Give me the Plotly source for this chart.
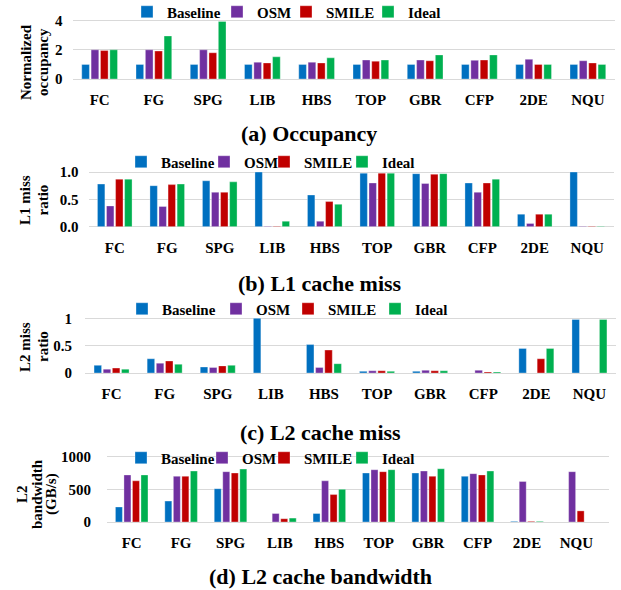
import plotly.graph_objects as go

# ---------------- data ----------------
categories = ["FC", "FG", "SPG", "LIB", "HBS", "TOP", "GBR", "CFP", "2DE", "NQU"]
series_names = ["Baseline", "OSM", "SMILE", "Ideal"]

occ_baseline = [1, 1, 1, 1, 1, 1, 1, 1, 1, 1]
occ_osm      = [2.0, 2.0, 2.0, 1.15, 1.15, 1.3, 1.3, 1.28, 1.35, 1.25]
occ_smile    = [1.95, 1.92, 1.8, 1.1, 1.1, 1.22, 1.25, 1.3, 1.0, 1.1]
occ_ideal    = [2.0, 2.95, 3.95, 1.52, 1.45, 1.3, 1.65, 1.65, 1.0, 1.0]

l1_baseline = [0.78, 0.75, 0.84, 1.0, 0.58, 0.98, 0.97, 0.80, 0.23, 1.0]
l1_osm      = [0.38, 0.37, 0.63, 0.01, 0.10, 0.80, 0.79, 0.63, 0.06, 0.01]
l1_smile    = [0.87, 0.77, 0.63, 0.01, 0.46, 0.98, 0.96, 0.80, 0.23, 0.01]
l1_ideal    = [0.87, 0.78, 0.82, 0.10, 0.41, 0.98, 0.97, 0.87, 0.23, 0.01]

l2_baseline = [0.14, 0.26, 0.11, 1.0, 0.52, 0.03, 0.03, 0.00, 0.45, 0.98]
l2_osm      = [0.07, 0.18, 0.10, 0.0, 0.10, 0.04, 0.05, 0.05, 0.00, 0.00]
l2_smile    = [0.09, 0.22, 0.13, 0.0, 0.42, 0.04, 0.04, 0.02, 0.26, 0.00]
l2_ideal    = [0.07, 0.16, 0.14, 0.0, 0.17, 0.03, 0.04, 0.02, 0.45, 0.98]

bw_baseline = [230, 320, 510, 0, 130, 750, 750, 700, 10, 0]
bw_osm      = [720, 700, 770, 130, 630, 800, 780, 740, 620, 770]
bw_smile    = [630, 700, 750, 50, 420, 770, 700, 720, 10, 170]
bw_ideal    = [720, 780, 810, 60, 500, 800, 815, 780, 10, 0]

y_tickvals_a = [0, 2, 4]
y_tickvals_b = [0.0, 0.5, 1.0]
y_ticktext_b = ["0.0", "0.5", "1.0"]
y_tickvals_c = [0, 0.5, 1]
y_ticktext_c = ["0", "0.5", "1"]
y_tickvals_d = [0, 500, 1000]

captions = ["(a) Occupancy", "(b) L1 cache miss", "(c) L2 cache miss", "(d) L2 cache bandwidth"]
ytitles = [["Normalized", "occupancy"], ["L1 miss", "ratio"], ["L2 miss", "ratio"],
           ["L2", "bandwidth", "(GB/s)"]]

colors = ["#0070C0", "#7030A0", "#C00000", "#00B050"]

panels_data = [
    [occ_baseline, occ_osm, occ_smile, occ_ideal],
    [l1_baseline, l1_osm, l1_smile, l1_ideal],
    [l2_baseline, l2_osm, l2_smile, l2_ideal],
    [bw_baseline, bw_osm, bw_smile, bw_ideal],
]

# ---------------- layout helpers (pixel geometry) ----------------
W, H = 621, 590
def px(x):
    return x / W
def py(y):
    return 1 - y / H

FONT = "Liberation Serif, Times New Roman, Times, serif"

panel_geo = [
    dict(x=(72.5, 615), y=(79.0, 19.2), yr=[0, 4.1], xr=[-0.5, 9.5], ystand=9),
    dict(x=(88.5, 613.5), y=(226.7, 169.3), yr=[0, 1.05], xr=[-0.5, 9.5], ystand=9),
    dict(x=(85, 616), y=(373.0, 315.6), yr=[0, 1.05], xr=[-0.5, 9.5], ystand=12),
    dict(x=(107, 609), y=(522.0, 453.4), yr=[0, 1050], xr=[-0.5, 9.66], ystand=15),
]
legend_rows = [
    dict(y=12, sq=[152, 242, 311, 393]),
    dict(y=162, sq=[146, 229, 289, 367]),
    dict(y=309, sq=[147, 241, 313, 400]),
    dict(y=458, sq=[146, 227, 289, 367]),
]
ytitle_geo = [
    dict(y=62, xs=[26, 43]),
    dict(y=200, xs=[25, 42.5]),
    dict(y=347, xs=[25, 43]),
    dict(y=494, xs=[22, 37, 51]),
]
caption_geo = [(309, 134), (320, 283), (320, 432), (320, 576)]

fig = go.Figure()
layout = dict(
    template="none",
    width=W, height=H, autosize=False,
    margin=dict(l=0, r=0, t=0, b=0, pad=0, autoexpand=False),
    paper_bgcolor="white", plot_bgcolor="white",
    barmode="group", bargap=0.31, bargroupgap=0.18,
    font=dict(family=FONT, size=15, color="black"),
    showlegend=True,
)

annotations = []
for p in range(4):
    xa = "x" if p == 0 else f"x{p+1}"
    ya = "y" if p == 0 else f"y{p+1}"
    for s in range(4):
        idx = p * 4 + s
        lg = "legend" if idx == 0 else f"legend{idx+1}"
        fig.add_trace(go.Bar(
            x=categories, y=panels_data[p][s], name=series_names[s],
            marker=dict(color=colors[s], line=dict(color="rgba(255,255,255,0.55)", width=0.6)),
            xaxis=xa, yaxis=ya, legend=lg, legendgroup=series_names[s],
        ))
        lr = legend_rows[p]
        layout[lg] = dict(
            x=px(lr["sq"][s] - 25), xanchor="left",
            y=py(lr["y"]), yanchor="middle",
            orientation="h", bgcolor="rgba(0,0,0,0)", borderwidth=0,
            font=dict(family=FONT, size=15, color="black", weight="bold"),
        )
    g = panel_geo[p]
    xkey = "xaxis" if p == 0 else f"xaxis{p+1}"
    ykey = "yaxis" if p == 0 else f"yaxis{p+1}"
    layout[xkey] = dict(
        domain=[px(g["x"][0]), px(g["x"][1])], anchor=ya, type="category",
        range=g["xr"], showgrid=False, showline=False, zeroline=False, ticks="",
        ticklabelstandoff=10, automargin=False,
        tickfont=dict(family=FONT, size=15, color="black", weight="bold"),
    )
    yax = dict(
        domain=[py(g["y"][0]), py(g["y"][1])], anchor=xa, range=g["yr"],
        showgrid=True, gridcolor="#d9d9d9", gridwidth=1,
        zeroline=True, zerolinecolor="#d9d9d9", zerolinewidth=1,
        showline=False, ticks="", ticklabelstandoff=g["ystand"], automargin=False,
        tickfont=dict(family=FONT, size=15, color="black", weight="bold"),
    )
    if p == 0:
        yax["tickvals"] = y_tickvals_a
    elif p == 1:
        yax["tickvals"] = y_tickvals_b
        yax["ticktext"] = y_ticktext_b
    elif p == 2:
        yax["tickvals"] = y_tickvals_c
        yax["ticktext"] = y_ticktext_c
    else:
        yax["tickvals"] = y_tickvals_d
    layout[ykey] = yax

    tg = ytitle_geo[p]
    for line, xc in zip(ytitles[p], tg["xs"]):
        annotations.append(dict(
            text=line, xref="paper", yref="paper", x=px(xc), y=py(tg["y"]),
            xanchor="center", yanchor="middle", textangle=-90, showarrow=False,
            font=dict(family=FONT, size=15, color="black", weight="bold"),
        ))
    cx, cy = caption_geo[p]
    annotations.append(dict(
        text=captions[p], xref="paper", yref="paper", x=px(cx), y=py(cy),
        xanchor="center", yanchor="middle", showarrow=False,
        font=dict(family=FONT, size=22, color="black", weight="bold"),
    ))

layout["annotations"] = annotations
fig.update_layout(**layout)
# remove the browser's default 8px page margin so the figure fills the window
fig.write_html("out.html", config={"displayModeBar": False},
               post_script="document.body.style.margin='0';")
